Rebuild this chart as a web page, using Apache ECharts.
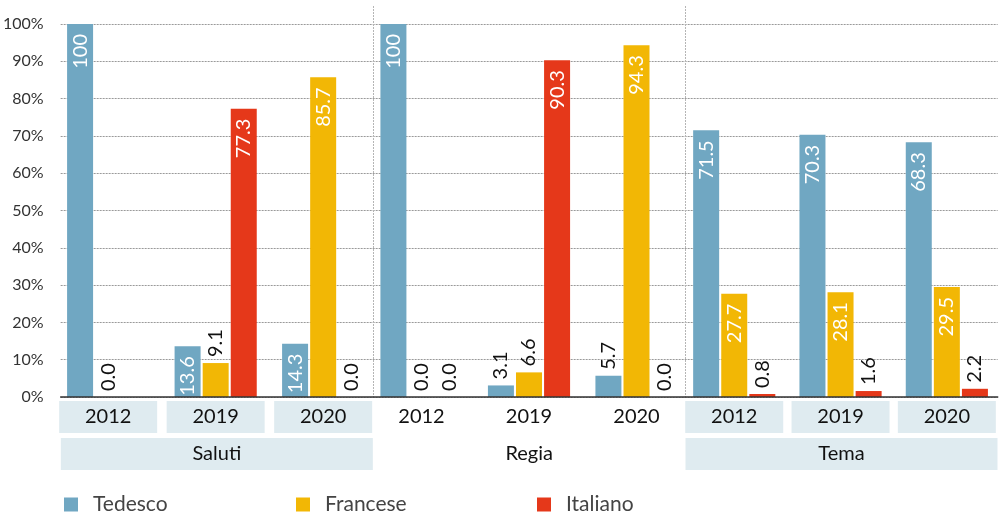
<!DOCTYPE html>
<html>
<head>
<meta charset="utf-8">
<script src="https://cdn.jsdelivr.net/npm/echarts@6/dist/echarts.min.js"></script>
<style>
  html, body { margin: 0; padding: 0; background: #fff; }
  #chart { width: 1000px; height: 518px; }
</style>
</head>
<body>
<div id="chart"></div>
<script>
// Categories: three survey years inside each of three sections
const sections = ['Saluti', 'Regia', 'Tema'];
const years = ['2012', '2019', '2020'];
const seriesNames = ['Tedesco', 'Francese', 'Italiano'];

// Shares in percent, per section, ordered by year (null = no value)
const tedesco = [
  [100, 13.6, 14.3],   // Saluti
  [100, 3.1, 5.7],     // Regia
  [71.5, 70.3, 68.3]   // Tema
];
const francese = [
  [0.0, 9.1, 85.7],
  [0.0, 6.6, 94.3],
  [27.7, 28.1, 29.5]
];
const italiano = [
  [null, 77.3, 0.0],
  [0.0, 90.3, 0.0],
  [0.8, 1.6, 2.2]
];

const colors = ['#70a7c2', '#f2b705', '#e5381a'];
const FONT = 'Lato';

// Sections drawn on a tinted band
const shadedSections = [true, false, true];

// Outer frame of the plot and inner spacing of the year groups
const PLOT_LEFT = 59, PLOT_RIGHT = 999, PLOT_TOP = 24, PLOT_BOTTOM = 121;
const YEAR_STEP = 107.5;

function fmtValue(v) {
  return v === 100 ? '100' : v.toFixed(1);
}

// Tall bars carry a white label inside the top, short ones a dark label above
function toData(values) {
  return values.map(function (v) {
    if (v === null) return '-';
    const inside = v >= 10;
    return {
      value: v,
      label: inside ? {
        show: true, position: 'insideTop', rotate: 90,
        align: 'right', verticalAlign: 'middle', distance: 10,
        color: '#ffffff'
      } : {
        show: true, position: 'top', rotate: 90,
        align: 'left', verticalAlign: 'middle', distance: 6,
        color: '#111111'
      }
    };
  });
}

function boxRich(width) {
  const base = {
    width: width, height: 32, lineHeight: 32,
    align: 'center', fontSize: 20, color: '#111111', fontFamily: FONT
  };
  return {
    box: Object.assign({ backgroundColor: '#dfebf0' }, base),
    plain: Object.assign({}, base)
  };
}

const chart = echarts.init(document.getElementById('chart'), null, { renderer: 'canvas' });

const sectionWidth = (PLOT_RIGHT - PLOT_LEFT) / sections.length;
const groupWidth = YEAR_STEP * years.length;

// grid 0: frame with value axis, gridlines, baseline and section labels
// grids 1..3: one per section, holding the bars of its three years
const grids = [{ left: PLOT_LEFT, width: PLOT_RIGHT - PLOT_LEFT, top: PLOT_TOP, bottom: PLOT_BOTTOM }];
sections.forEach(function (s, i) {
  const center = PLOT_LEFT + sectionWidth * (i + 0.5);
  grids.push({ left: center - groupWidth / 2, width: groupWidth, top: PLOT_TOP, bottom: PLOT_BOTTOM });
});

const xAxes = [{
  gridIndex: 0,
  type: 'category',
  data: sections,
  position: 'bottom',
  axisLine: { show: true, lineStyle: { color: '#333333', width: 1.5 } },
  axisTick: { show: false },
  splitLine: { show: false },
  axisLabel: {
    interval: 0,
    margin: 41,
    formatter: function (val, idx) {
      return (shadedSections[idx] ? '{box|' : '{plain|') + val + '}';
    },
    rich: boxRich(312)
  },
  z: 5
}];
const yAxes = [{
  gridIndex: 0,
  type: 'value',
  min: 0,
  max: 100,
  interval: 10,
  axisLine: { show: false },
  axisTick: { show: false },
  axisLabel: {
    formatter: '{value}%',
    margin: 17,
    fontSize: 16,
    color: '#333333',
    fontFamily: FONT
  },
  splitLine: {
    show: true,
    lineStyle: { color: '#9a9a9a', width: 1, type: [2, 1] }
  }
}];

sections.forEach(function (s, i) {
  xAxes.push({
    gridIndex: i + 1,
    type: 'category',
    data: years,
    position: 'bottom',
    axisLine: { show: false },
    axisTick: { show: false },
    splitLine: { show: false },
    axisLabel: {
      interval: 0,
      margin: 4,
      formatter: function (val) {
        return (shadedSections[i] ? '{box|' : '{plain|') + val + '}';
      },
      rich: boxRich(98)
    }
  });
  yAxes.push({
    gridIndex: i + 1,
    type: 'value',
    min: 0,
    max: 100,
    show: false,
    splitLine: { show: false }
  });
});

const seriesValues = [tedesco, francese, italiano];
const series = [];
sections.forEach(function (s, i) {
  seriesNames.forEach(function (name, k) {
    series.push({
      name: name,
      type: 'bar',
      xAxisIndex: i + 1,
      yAxisIndex: i + 1,
      barWidth: 26,
      barGap: '8%',
      data: toData(seriesValues[k][i]),
      label: {
        fontSize: 20,
        fontFamily: FONT,
        formatter: function (p) { return fmtValue(p.value); }
      },
      z: 3
    });
  });
});

const option = {
  animation: false,
  backgroundColor: '#ffffff',
  color: colors,
  textStyle: { fontFamily: FONT },
  grid: grids,
  xAxis: xAxes,
  yAxis: yAxes,
  legend: seriesNames.map(function (name, i) {
    return {
      data: [name],
      left: [64, 296, 537][i],
      top: 494,
      padding: 0,
      icon: 'rect',
      itemWidth: 14,
      itemHeight: 14,
      selectedMode: false,
      textStyle: {
        fontSize: 21, color: '#444444', fontFamily: FONT,
        padding: [0, 0, 0, 10]
      }
    };
  }),
  series: series
};

chart.setOption(option);

// Dotted separators between the three sections, placed from the section axis
function sectionBoundary(a, b) {
  const xa = chart.convertToPixel({ xAxisIndex: 0 }, a);
  const xb = chart.convertToPixel({ xAxisIndex: 0 }, b);
  return (xa + xb) / 2;
}
const yBase = chart.convertToPixel({ yAxisIndex: 0 }, 0);
const separators = [[0, 1], [1, 2]].map(function (pair) {
  const x = Math.round(sectionBoundary(pair[0], pair[1])) + 0.5;
  return {
    type: 'line',
    silent: true,
    z: 0,
    shape: { x1: x, y1: 6, x2: x, y2: yBase },
    style: { stroke: '#b5b5b5', lineWidth: 1, lineDash: [2, 1] }
  };
});
chart.setOption({ graphic: separators });
</script>
</body>
</html>
